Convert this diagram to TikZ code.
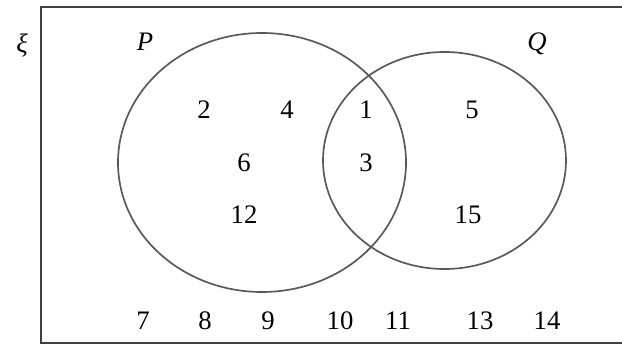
\documentclass[tikz,border=0pt]{standalone}
\usepackage{fontspec}
\setmainfont{Liberation Serif}
\usepackage{tikz}

\begin{document}
\begin{tikzpicture}[line width=1.2pt, num/.style={font=\fontsize{19}{22}\selectfont}]
    \useasboundingbox (0, 0) rectangle (15.55, -8.725);
    % 全集
    \draw[black!75] (1.025, -0.175) rectangle (15.75, -8.575);
    \node[num] (xi) at (0.55, -1.15) {\itshape ξ};
    
    % 集合 P 与 Q
    \draw[black!65] (6.55, -4.0625) ellipse (3.6 and 3.2375);
    \draw[black!65] (11.1125, -4.0125) ellipse (3.0375 and 2.7125);
    \node[num] (P) at (3.625, -1.05) {\itshape P};
    \node[num] (Q) at (13.425, -1.1) {\itshape Q};
    
    % P 内的元素
    \node[num] (n2) at (5.1, -2.75) {2};
    \node[num] (n4) at (7.175, -2.75) {4};
    \node[num] (n6) at (6.1, -4.075) {6};
    \node[num] (n12) at (6.1, -5.375) {12};
    
    % 交集
    \node[num] (n1) at (9.15, -2.75) {1};
    \node[num] (n3) at (9.15, -4.075) {3};
    
    % Q 内的元素
    \node[num] (n5) at (11.8, -2.75) {5};
    \node[num] (n15) at (11.7, -5.375) {15};
    
    % 其余元素
    \node[num] (n7) at (3.575, -8.025) {7};
    \node[num] (n8) at (5.125, -8.025) {8};
    \node[num] (n9) at (6.7, -8.025) {9};
    \node[num] (n10) at (8.5, -8.025) {10};
    \node[num] (n11) at (9.95, -8.025) {11};
    \node[num] (n13) at (12.0, -8.025) {13};
    \node[num] (n14) at (13.675, -8.025) {14};
\end{tikzpicture}
\end{document}
